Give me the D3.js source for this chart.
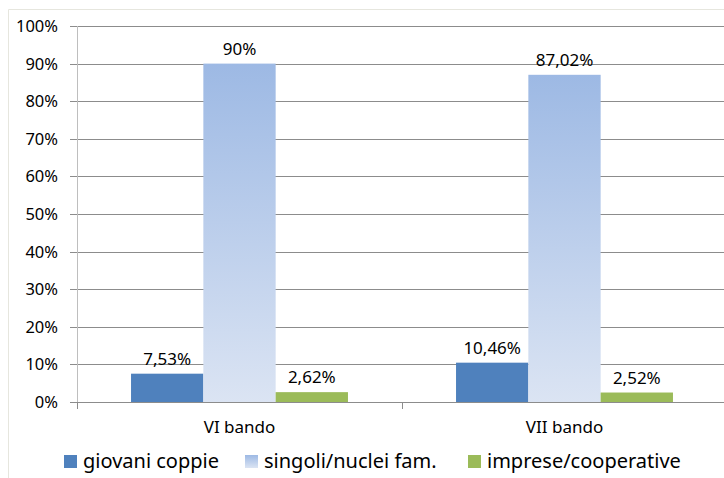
<!DOCTYPE html>
<html><head><meta charset="utf-8">
<script src="https://cdn.jsdelivr.net/npm/d3@7"></script>
<style>body{margin:0;background:#fff}svg{display:block}</style>
</head><body>
<script>
const categories = ["VI bando", "VII bando"];
const seriesNames = ["giovani coppie", "singoli/nuclei fam.", "imprese/cooperative"];
const giovani = [7.53, 10.46];
const singoli = [90, 87.02];
const imprese = [2.62, 2.52];
const labelsGiovani = ["7,53%", "10,46%"];
const labelsSingoli = ["90%", "87,02%"];
const labelsImprese = ["2,62%", "2,52%"];
const yTicks = [0, 10, 20, 30, 40, 50, 60, 70, 80, 90, 100];

const W = 724, H = 478;
const font = "'Noto Sans', sans-serif";
const svg = d3.select("body").append("svg").attr("width", W).attr("height", H);

const defs = svg.append("defs");
const grad = defs.append("linearGradient").attr("id", "gS").attr("x1", 0).attr("y1", 0).attr("x2", 0).attr("y2", 1);
grad.append("stop").attr("offset", "0%").attr("stop-color", "#9db9e4");
grad.append("stop").attr("offset", "100%").attr("stop-color", "#dbe4f3");
const gradL = defs.append("linearGradient").attr("id", "gL").attr("x1", 0).attr("y1", 0).attr("x2", 0).attr("y2", 1);
gradL.append("stop").attr("offset", "0%").attr("stop-color", "#9db9e4");
gradL.append("stop").attr("offset", "100%").attr("stop-color", "#dbe4f3");

// chart frame
svg.append("path").attr("d", `M8.5,${H} V9.5 H${W}`).attr("fill", "none").attr("stroke", "#e6e6de").attr("stroke-width", 1);

const plotL = 77, plotR = 727, plotT = 26, plotB = 402;
const x0 = d3.scaleBand().domain(categories).range([plotL, plotR]).paddingInner(0).paddingOuter(0);
const y = d3.scaleLinear().domain([0, 100]).range([plotB, plotT]);
const series = [
  {name: seriesNames[0], vals: giovani, labels: labelsGiovani, fill: "#4f81bd"},
  {name: seriesNames[1], vals: singoli, labels: labelsSingoli, fill: "url(#gS)"},
  {name: seriesNames[2], vals: imprese, labels: labelsImprese, fill: "#9bbb59"}
];
const groupW = x0.bandwidth();
const barW = groupW * 0.2225;
const x1 = d3.scaleBand().domain(seriesNames).range([(groupW - 3 * barW) / 2, (groupW + 3 * barW) / 2]);

// gridlines
svg.append("g").selectAll("line").data(yTicks).join("line")
  .attr("x1", plotL - 7).attr("x2", W)
  .attr("y1", d => Math.round(y(d)) + 0.5).attr("y2", d => Math.round(y(d)) + 0.5)
  .attr("stroke", "#8c8c8c").attr("stroke-width", 1);

// y axis line
svg.append("line").attr("x1", plotL + 0.5).attr("x2", plotL + 0.5).attr("y1", plotT).attr("y2", plotB + 1)
  .attr("stroke", "#bebebe");

// category ticks
svg.append("g").selectAll("line").data([plotL, plotL + groupW]).join("line")
  .attr("x1", d => Math.round(d) + 0.5).attr("x2", d => Math.round(d) + 0.5)
  .attr("y1", plotB).attr("y2", plotB + 7).attr("stroke", "#8c8c8c");

// y labels
svg.append("g").selectAll("text").data(yTicks).join("text")
  .attr("x", 58).attr("y", d => y(d)).attr("dy", "0.36em").attr("text-anchor", "end")
  .attr("font-family", font).attr("font-size", 16.5).attr("fill", "#000")
  .text(d => d + "%");

// bars
series.forEach(s => {
  const g = svg.append("g");
  g.selectAll("rect").data(categories).join("rect")
    .attr("x", (c) => x0(c) + x1(s.name))
    .attr("y", (c, i) => y(s.vals[i]))
    .attr("width", x1.bandwidth())
    .attr("height", (c, i) => plotB - y(s.vals[i]))
    .attr("fill", s.fill);
  g.selectAll("text").data(categories).join("text")
    .attr("x", (c) => x0(c) + x1(s.name) + x1.bandwidth() / 2)
    .attr("y", (c, i) => y(s.vals[i]) - 9)
    .attr("text-anchor", "middle")
    .attr("font-family", font).attr("font-size", 17).attr("fill", "#000")
    .text((c, i) => s.labels[i]);
});

// category labels
svg.append("g").selectAll("text").data(categories).join("text")
  .attr("x", c => x0(c) + groupW / 2).attr("y", 433).attr("text-anchor", "middle")
  .attr("font-family", font).attr("font-size", 17).attr("fill", "#000")
  .text(c => c);

// legend
const legX = [64, 245, 468];
const leg = svg.append("g");
series.forEach((s, i) => {
  leg.append("rect").attr("x", legX[i]).attr("y", 455).attr("width", 13).attr("height", 13)
    .attr("fill", i === 1 ? "url(#gL)" : s.fill);
  leg.append("text").attr("x", legX[i] + 19).attr("y", 468)
    .attr("font-family", font).attr("font-size", 20).attr("fill", "#000")
    .text(s.name);
});
</script>
</body></html>
